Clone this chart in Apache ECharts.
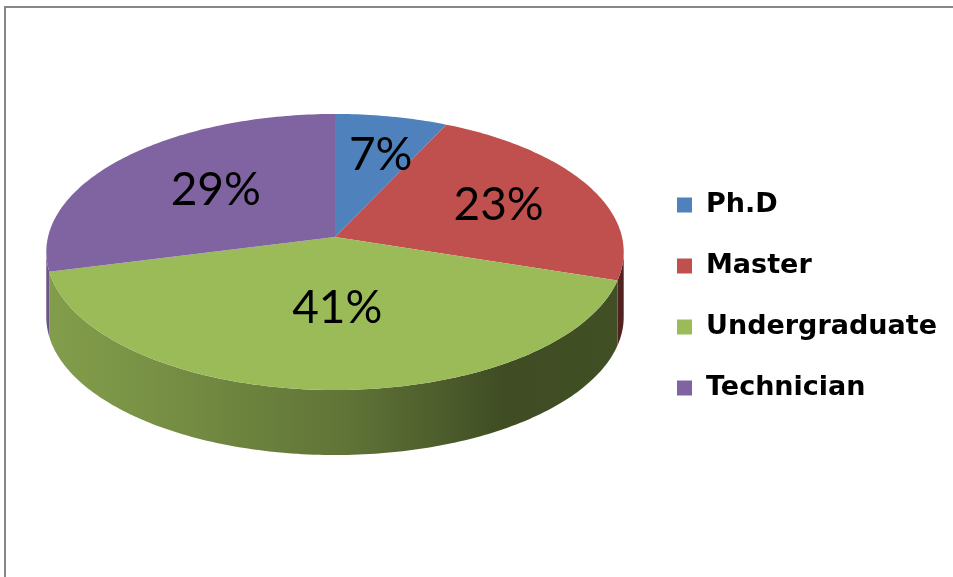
<!DOCTYPE html>
<html><head><meta charset="utf-8">
<script src="https://cdn.jsdelivr.net/npm/echarts@6/dist/echarts.min.js"></script>
<style>html,body{margin:0;padding:0;background:#fff}#chart{width:953px;height:577px}</style>
</head><body><div id="chart"></div>
<script>
const categories = ['Ph.D', 'Master', 'Undergraduate', 'Technician'];
const values = [7, 23, 41, 29];
const colors = ['#4F81BD', '#C0504D', '#9BBB59', '#8064A2'];

// geometry of the tilted pie (style, not data)
const CX = 335, CY = 237, A = 287, B = 136.4, P = 0.1087, DEPTH = 65;
const total = values.reduce((a, b) => a + b, 0);
const TMIN = Math.acos(-P), TMAX = 2 * Math.PI - TMIN;

function proj(t, r, dy) {
  const X = r * Math.sin(t), Z = r * Math.cos(t), w = 1 + P * Z;
  return [CX + A * X / w, CY - B * Z / w + (dy || 0)];
}
function arcPts(a0, a1, r, dy) {
  const n = Math.max(2, Math.ceil((a1 - a0) / (Math.PI / 180)));
  const pts = [];
  for (let k = 0; k <= n; k++) pts.push(proj(a0 + (a1 - a0) * k / n, r, dy));
  return pts;
}
function shade(hex, f) {
  const n = parseInt(hex.slice(1), 16);
  const r = Math.round(((n >> 16) & 255) * f), g = Math.round(((n >> 8) & 255) * f), b = Math.round((n & 255) * f);
  return 'rgb(' + r + ',' + g + ',' + b + ')';
}
function sideFill(base) {
  return {
    type: 'linear', x: CX - 289, y: 0, x2: CX + 289, y2: 0, global: true,
    colorStops: [
      { offset: 0, color: shade(base, 0.84) },
      { offset: 0.12, color: shade(base, 0.8) },
      { offset: 0.52, color: shade(base, 0.62) },
      { offset: 0.79, color: shade(base, 0.41) },
      { offset: 1, color: shade(base, 0.42) }
    ]
  };
}

function makeRender(i) {
  return function (params, api) {
    const v = api.value(0);
    let before = 0;
    for (let k = 0; k < i; k++) before += values[k];
    const a0 = before / total * 2 * Math.PI;
    const a1 = a0 + v / total * 2 * Math.PI;
    const children = [];
    const s0 = Math.max(a0, TMIN), s1 = Math.min(a1, TMAX);
    if (s1 > s0) {
      const top = arcPts(s0, s1, 1, 0);
      const bot = arcPts(s0, s1, 1, DEPTH).reverse();
      children.push({ type: 'polygon', z2: 1, shape: { points: top.concat(bot) }, style: { fill: sideFill(colors[i]) } });
    }
    children.push({ type: 'polygon', z2: 5, shape: { points: [[CX, CY]].concat(arcPts(a0, a1, 1, 0)) }, style: { fill: colors[i] } });
    const half = (a1 - a0) / 2;
    const rl = 2 * Math.sin(half) / (3 * half);
    const lp = proj((a0 + a1) / 2, rl, 0);
    children.push({
      type: 'text', z2: 10, x: lp[0] + 7, y: lp[1],
      style: { text: Math.round(v / total * 100) + '%', fill: '#000', fontSize: 46, fontFamily: 'Lato', align: 'center', verticalAlign: 'middle' }
    });
    return { type: 'group', children: children };
  };
}

const series = categories.map((name, i) => ({
  type: 'custom',
  name: name,
  coordinateSystem: 'none',
  itemStyle: { color: colors[i] },
  renderItem: makeRender(i),
  data: [[values[i]]]
}));

const chart = echarts.init(document.getElementById('chart'));
chart.setOption({
  backgroundColor: '#fff',
  animation: false,
  color: colors,
  graphic: [{
    type: 'rect', shape: { x: 5, y: 7, width: 1000, height: 700 },
    style: { fill: 'none', stroke: '#878787', lineWidth: 2 }, silent: true
  }],
  legend: {
    orient: 'vertical', left: 677, top: 190, padding: 0,
    itemWidth: 15, itemHeight: 15, itemGap: 31, icon: 'rect', selectedMode: false,
    data: categories,
    textStyle: { fontFamily: 'DejaVu Sans', fontWeight: 'bold', fontSize: 27, color: '#000', lineHeight: 30, padding: [0, 0, 0, 9] }
  },
  series: series
});
</script></body></html>
